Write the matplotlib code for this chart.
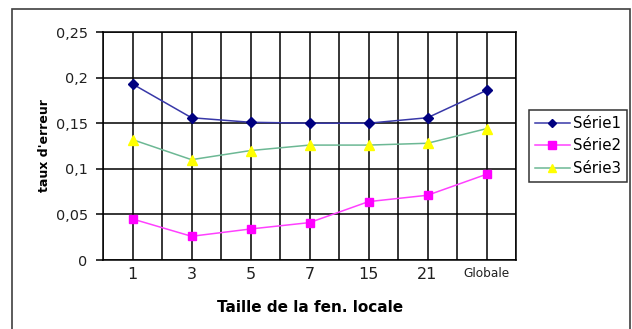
import matplotlib.pyplot as plt
from matplotlib.patches import Rectangle

plt.rcParams['font.family'] = ['DejaVu Sans']

categories = ['1', '3', '5', '7', '15', '21', 'Globale']
serie1 = [0.193, 0.156, 0.151, 0.150, 0.150, 0.156, 0.186]
serie2 = [0.045, 0.026, 0.034, 0.041, 0.064, 0.071, 0.094]
serie3 = [0.132, 0.110, 0.120, 0.126, 0.126, 0.128, 0.144]
yticks = [0, 0.05, 0.1, 0.15, 0.2, 0.25]
ytick_labels = ['0', '0,05', '0,1', '0,15', '0,2', '0,25']

W, H = 632, 329
fig = plt.figure(figsize=(W / 100, H / 100), dpi=100)

# outer chart frame (bottom edge falls off the canvas)
fig.patches.append(Rectangle((12 / W, -0.05), 618 / W, 1.05 - 8.5 / H,
                             transform=fig.transFigure, fill=False,
                             edgecolor='#404040', linewidth=1.2))

ax = fig.add_axes([103 / W, (H - 260) / H, 413 / W, 228 / H])
x = list(range(len(categories)))

ax.plot(x, serie1, color='#3838a8', linewidth=1.1, marker='D', markersize=5,
        markerfacecolor='#000080', markeredgecolor='#000080', label='Série1', zorder=3)
ax.plot(x, serie2, color='#ff40ff', linewidth=1.1, marker='s', markersize=6,
        markerfacecolor='#ff00ff', markeredgecolor='#ff00ff', label='Série2', zorder=3)
ax.plot(x, serie3, color='#6cb894', linewidth=1.1, marker='^', markersize=7,
        markerfacecolor='#ffff00', markeredgecolor='#ffff00', label='Série3', zorder=3)

ax.set_xlim(-0.5, len(categories) - 0.5)
ax.set_ylim(0, 0.25)
ax.set_yticks(yticks)
ax.set_yticklabels(ytick_labels, fontsize=10.4, color='#202020')
ax.set_xticks(x)
ax.set_xticklabels(categories, fontsize=11.5, color='#202020')
ax.get_xticklabels()[-1].set_fontsize(8.7)
ax.set_xticks([i - 0.5 for i in range(len(categories) + 1)], minor=True)

ax.grid(True, which='both', axis='x', color='black', linewidth=1.1)
ax.grid(True, which='major', axis='y', color='black', linewidth=1.1)
ax.tick_params(axis='x', which='both', length=0, pad=5)
ax.tick_params(axis='y', length=5, width=1.1, pad=6)
for sp in ax.spines.values():
    sp.set_linewidth(1.1)
    sp.set_color('black')

fig.text(45 / W, 1 - 146 / H, "taux d'erreur", rotation=90, fontsize=9,
         fontweight='bold', ha='center', va='center')
fig.text(310 / W, 1 - 308 / H, 'Taille de la fen. locale', fontsize=11,
         fontweight='bold', ha='center', va='center')

leg = fig.legend(loc='upper left', bbox_to_anchor=(529 / W, 1 - 110 / H),
                 frameon=True, fancybox=False, edgecolor='black', fontsize=10.8,
                 handlelength=2.3, handletextpad=0.2, borderpad=0.4,
                 labelspacing=0.5, borderaxespad=0, markerscale=0.9)
leg.get_frame().set_linewidth(1.1)

fig.savefig('out.png', dpi=100)
